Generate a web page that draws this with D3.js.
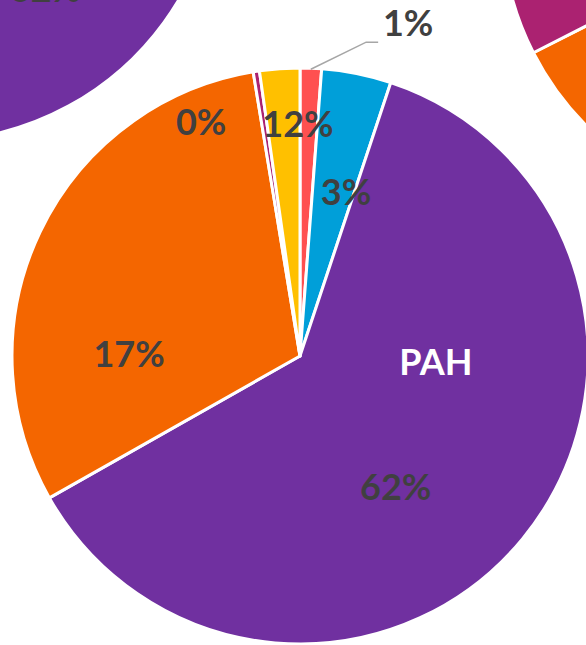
<!DOCTYPE html>
<html>
<head>
<meta charset="utf-8">
<script src="https://cdn.jsdelivr.net/npm/d3@7"></script>
<style>
  html, body { margin: 0; padding: 0; background: #fff; overflow: hidden; }
  svg { display: block; }
</style>
</head>
<body>
<div id="pie-chart"></div>
<script>
// slices, clockwise from 12 o'clock
const categories = ['A', 'B', 'PAH', 'D', 'E', 'F'];
const sliceColors = ['#ff5050', '#009fd9', '#7030a0', '#f46600', '#ab2271', '#ffc000'];
const mainValues = [1.2, 3.9, 61.7, 30.6, 0.35, 2.25];
const mainLabels = ['1%', '3%', '62%', '17%', '0%', '12%'];
const nameLabel = 'PAH';

// neighbouring pies, only partly in view
const leftValues = [1.5, 3.5, 60, 31, 1, 3];
const leftLabel = '62%';
const rightValues = [1.5, 4, 48, 14, 28, 4.5];

var width = 586;
var height = 645;
var radius = 288;
var labelColor = '#404040';
var labelFont = 'Lato, "Open Sans", sans-serif';

// label spots: [angle in degrees clockwise from top, distance from centre]
var labelSpots = [[18, 350], [15.7, 170], [143.8, 162], [270.7, 171], [337.1, 254], [359.5, 232]];
var nameSpot = [92.5, 136];

var svg = d3.select('#pie-chart').append('svg')
  .attr('width', width)
  .attr('height', height);

var pie = d3.pie().sort(null).value(d => d);
var arc = d3.arc().innerRadius(0).outerRadius(radius);
var rad = deg => deg * Math.PI / 180;

function drawPie(values, cx, cy) {
  let g = svg.append('g').attr('transform', `translate(${cx}, ${cy})`);
  g.selectAll('path')
    .data(pie(values)).enter()
    .append('path')
    .attr('d', arc)
    .attr('fill', (d, i) => sliceColors[i])
    .attr('stroke', '#fff')
    .attr('stroke-width', 3)
    .attr('stroke-linejoin', 'round');
  return g;
}

function addLabel(g, spot, text, color) {
  let p = d3.pointRadial(rad(spot[0]), spot[1]);
  g.append('text')
    .attr('x', p[0])
    .attr('y', p[1])
    .attr('dy', '0.36em')
    .attr('text-anchor', 'middle')
    .attr('font-family', labelFont)
    .attr('font-weight', 'bold')
    .attr('font-size', 36)
    .attr('fill', color)
    .text(text);
  return p;
}

/* neighbours */
let left = drawPie(leftValues, -69, -147);
addLabel(left, [140, 178], leftLabel, labelColor);
drawPie(rightValues, 790, -78);

/* main pie */
let main = drawPie(mainValues, 300, 356);
let arcs = pie(mainValues);

mainLabels.forEach((t, i) => {
  let p = addLabel(main, labelSpots[i], t, labelColor);
  if (i === 0) {
    // leader line for the small slice
    let mid = (arcs[i].startAngle + arcs[i].endAngle) / 2;
    let start = d3.pointRadial(mid, radius - 1);
    let end = [p[0] - 30, p[1] + 19];
    main.append('polyline')
      .attr('points', [start, [end[0] - 12, end[1]], end].map(q => q.join(',')).join(' '))
      .attr('fill', 'none')
      .attr('stroke', '#a6a6a6')
      .attr('stroke-width', 1.5);
  }
});
addLabel(main, nameSpot, nameLabel, '#ffffff');
</script>
</body>
</html>
